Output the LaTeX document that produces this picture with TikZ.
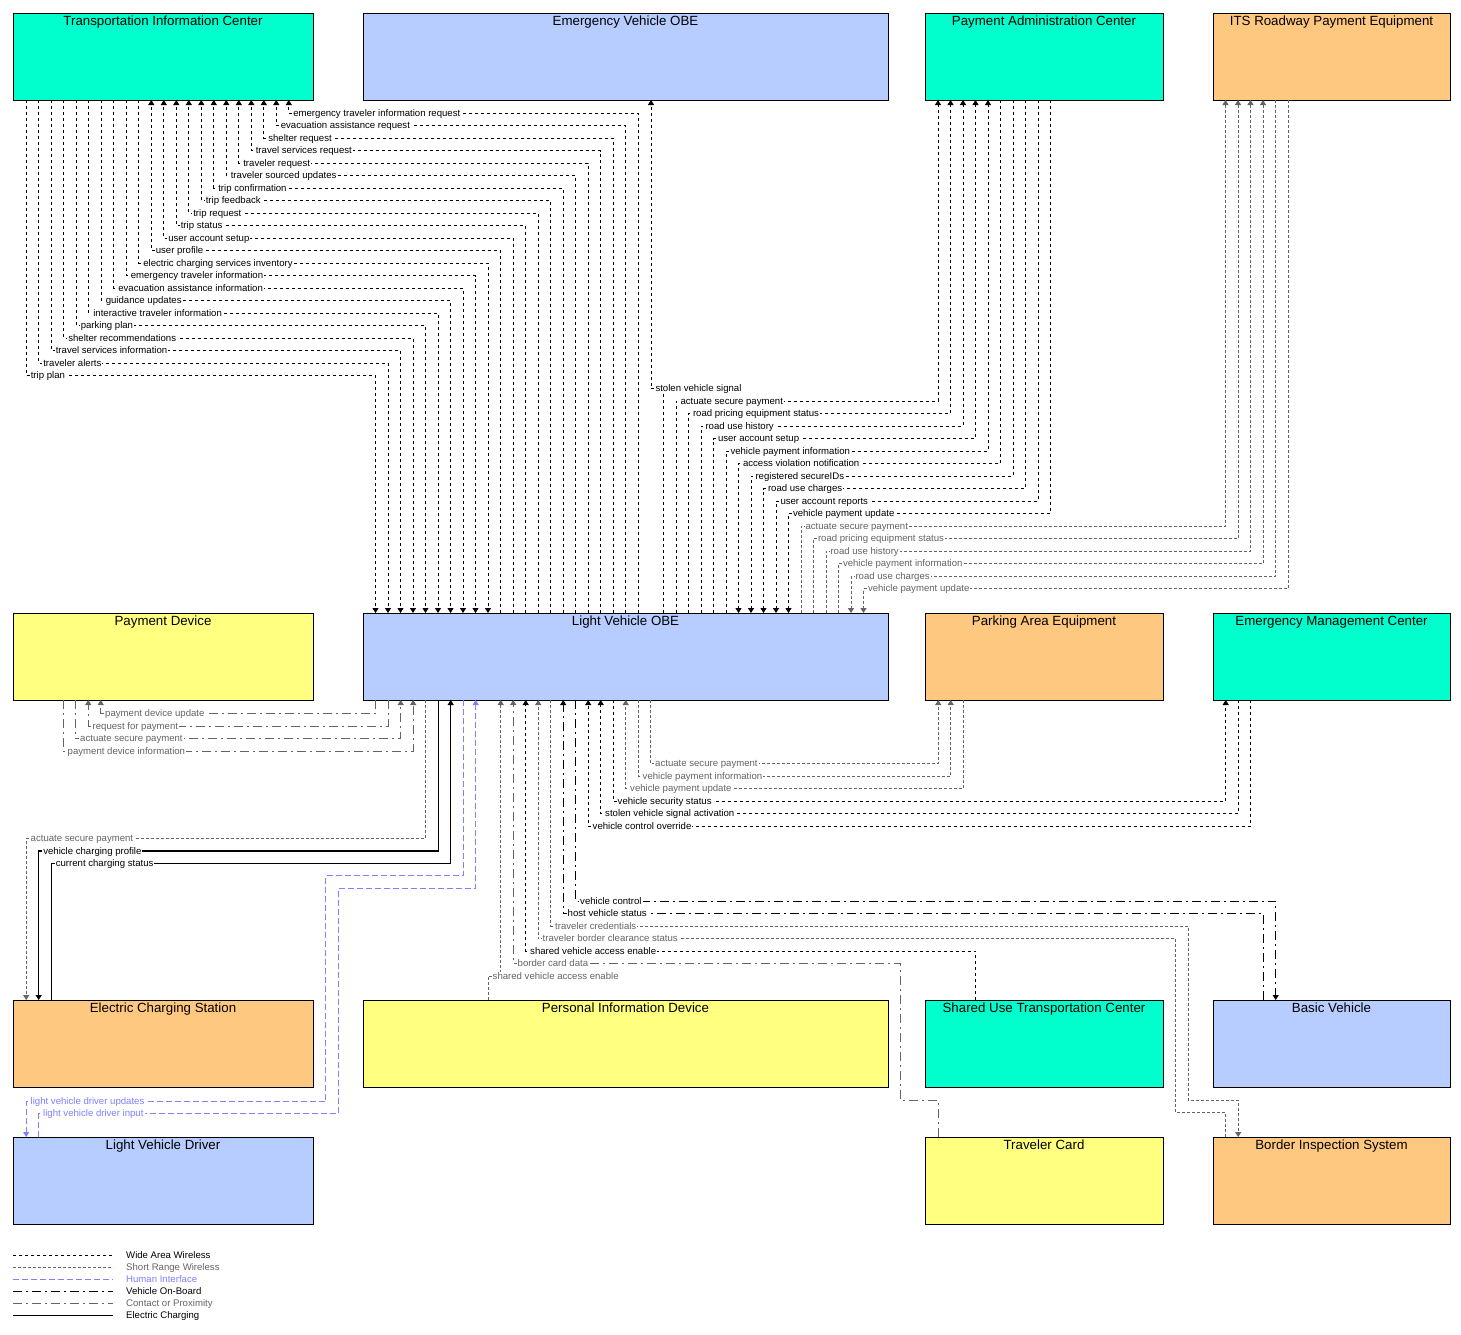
\documentclass[tikz,border=0pt]{standalone}
\usepackage{fontspec}
\setmainfont{Liberation Sans}
\usetikzlibrary{arrows.meta}
\definecolor{cteal}{RGB}{0,255,204}
\definecolor{cblue}{RGB}{183,204,255}
\definecolor{cyel}{RGB}{255,255,128}
\definecolor{corg}{RGB}{255,200,128}
\definecolor{cgray}{RGB}{100,100,100}
\definecolor{chi}{RGB}{128,128,255}
\newcounter{lbc}
\newcommand\fl[7]{%
  \draw[#1,arr] (#2 -| #3,0) -- (#3,#4) -- (#6,#4) -- (#5 -| #6,0);
  \stepcounter{lbc}%
  \node[#1,lbl] (lb\arabic{lbc}) at ({min(#3,#6)+3},#4) {#7};
}
\newcommand\lab[4]{% style, x, y, text
  \stepcounter{lbc}%
  \node[#1,lbl] (lb\arabic{lbc}) at (#2,#3) {#4};
}
\tikzset{
 box/.style={draw=black, line width=1pt, anchor=north west, inner sep=0pt, outer sep=0pt},
 ttl/.style={anchor=north, inner sep=0pt, font=\fontsize{13.3}{15}\selectfont, yshift=-3pt},
 lbl/.style={anchor=west, fill=white, inner xsep=1pt, inner ysep=0.5pt, font=\fontsize{9.6}{11}\selectfont, text height=6.8pt, text depth=2pt, yshift=-0.8pt},
 leg/.style={anchor=west, inner sep=0pt, font=\fontsize{9.6}{11}\selectfont, text height=6.8pt, text depth=2pt, yshift=-0.8pt},
 arr/.style={-{Triangle[width=6pt,length=5pt]}},
 waw/.style={color=black, line width=1pt, dash pattern=on 3pt off 3pt},
 srw/.style={color=cgray, line width=1pt, dash pattern=on 3pt off 2pt},
 hi/.style={color=chi, line width=1pt, dash pattern=on 6pt off 3pt},
 vob/.style={color=black, line width=1pt, dash pattern=on 9pt off 4pt on 2pt off 4pt},
 cop/.style={color=cgray, line width=1pt, dash pattern=on 9pt off 4pt on 2pt off 4pt},
 ec/.style={color=black, line width=1.2pt},
}
\begin{document}
\begin{tikzpicture}[x=1pt,y=-1pt]
\useasboundingbox (0,0) rectangle (1461,1334);
\fill[white] (0,0) rectangle (1461,1334);
% boxes
\node[box,fill=cteal,minimum width=300pt,minimum height=87pt] (tic) at (13,13) {};
\node[box,fill=cblue,minimum width=525pt,minimum height=87pt] (evobe) at (363,13) {};
\node[box,fill=cteal,minimum width=238pt,minimum height=87pt] (pac) at (925,13) {};
\node[box,fill=corg,minimum width=237pt,minimum height=87pt] (rpe) at (1213,13) {};
\node[box,fill=cyel,minimum width=300pt,minimum height=87pt] (pd) at (13,613) {};
\node[box,fill=cblue,minimum width=525pt,minimum height=87pt] (lvobe) at (363,613) {};
\node[box,fill=corg,minimum width=238pt,minimum height=87pt] (pae) at (925,613) {};
\node[box,fill=cteal,minimum width=237pt,minimum height=87pt] (emc) at (1213,613) {};
\node[box,fill=corg,minimum width=300pt,minimum height=87pt] (ecs) at (13,1000) {};
\node[box,fill=cyel,minimum width=525pt,minimum height=87pt] (pid) at (363,1000) {};
\node[box,fill=cteal,minimum width=238pt,minimum height=87pt] (sutc) at (925,1000) {};
\node[box,fill=cblue,minimum width=237pt,minimum height=87pt] (bv) at (1213,1000) {};
\node[box,fill=cblue,minimum width=300pt,minimum height=87pt] (lvd) at (13,1137) {};
\node[box,fill=cyel,minimum width=238pt,minimum height=87pt] (tc) at (925,1137) {};
\node[box,fill=corg,minimum width=237pt,minimum height=87pt] (bis) at (1213,1137) {};
% titles
\node[ttl] (tic-t) at (tic.north) {Transportation Information Center};
\node[ttl] (evobe-t) at (evobe.north) {Emergency Vehicle OBE};
\node[ttl] (pac-t) at (pac.north) {Payment Administration Center};
\node[ttl] (rpe-t) at (rpe.north) {ITS Roadway Payment Equipment};
\node[ttl] (pd-t) at (pd.north) {Payment Device};
\node[ttl] (lvobe-t) at (lvobe.north) {Light Vehicle OBE};
\node[ttl] (pae-t) at (pae.north) {Parking Area Equipment};
\node[ttl] (emc-t) at (emc.north) {Emergency Management Center};
\node[ttl] (ecs-t) at (ecs.north) {Electric Charging Station};
\node[ttl] (pid-t) at (pid.north) {Personal Information Device};
\node[ttl] (sutc-t) at (sutc.north) {Shared Use Transportation Center};
\node[ttl] (bv-t) at (bv.north) {Basic Vehicle};
\node[ttl] (lvd-t) at (lvd.north) {Light Vehicle Driver};
\node[ttl] (tc-t) at (tc.north) {Traveler Card};
\node[ttl] (bis-t) at (bis.north) {Border Inspection System};
% TIC <-> LV OBE
\fl{waw}{lvobe.north}{638}{113}{tic.south}{288.8}{emergency traveler information request}
\fl{waw}{lvobe.north}{625.5}{125.5}{tic.south}{276.3}{evacuation assistance request}
\fl{waw}{lvobe.north}{613}{138}{tic.south}{263.8}{shelter request}
\fl{waw}{lvobe.north}{600.5}{150.5}{tic.south}{251.3}{travel services request}
\fl{waw}{lvobe.north}{588}{163}{tic.south}{238.8}{traveler request}
\fl{waw}{lvobe.north}{575.5}{175.5}{tic.south}{226.3}{traveler sourced updates}
\fl{waw}{lvobe.north}{563}{188}{tic.south}{213.8}{trip confirmation}
\fl{waw}{lvobe.north}{550.5}{200.5}{tic.south}{201.3}{trip feedback}
\fl{waw}{lvobe.north}{538}{213}{tic.south}{188.8}{trip request}
\fl{waw}{lvobe.north}{525.5}{225.5}{tic.south}{176.3}{trip status}
\fl{waw}{lvobe.north}{513}{238}{tic.south}{163.8}{user account setup}
\fl{waw}{lvobe.north}{500.5}{250.5}{tic.south}{151.3}{user profile}
\fl{waw}{tic.south}{138.8}{263}{lvobe.north}{488}{electric charging services inventory}
\fl{waw}{tic.south}{126.3}{275.5}{lvobe.north}{475.5}{emergency traveler information}
\fl{waw}{tic.south}{113.8}{288}{lvobe.north}{463}{evacuation assistance information}
\fl{waw}{tic.south}{101.3}{300.5}{lvobe.north}{450.5}{guidance updates}
\fl{waw}{tic.south}{88.8}{313}{lvobe.north}{438}{interactive traveler information}
\fl{waw}{tic.south}{76.3}{325.5}{lvobe.north}{425.5}{parking plan}
\fl{waw}{tic.south}{63.8}{338}{lvobe.north}{413}{shelter recommendations}
\fl{waw}{tic.south}{51.3}{350.5}{lvobe.north}{400.5}{travel services information}
\fl{waw}{tic.south}{38.8}{363}{lvobe.north}{388}{traveler alerts}
\fl{waw}{tic.south}{26.3}{375.5}{lvobe.north}{375.5}{trip plan}
% EV OBE
\fl{waw}{lvobe.north}{663.5}{388.5}{evobe.south}{651}{stolen vehicle signal}
% PAC
\fl{waw}{lvobe.north}{676}{401}{pac.south}{938}{actuate secure payment}
\fl{waw}{lvobe.north}{688.5}{413.5}{pac.south}{950.5}{road pricing equipment status}
\fl{waw}{lvobe.north}{701}{426}{pac.south}{963}{road use history}
\fl{waw}{lvobe.north}{713.5}{438.5}{pac.south}{975.5}{user account setup}
\fl{waw}{lvobe.north}{726}{451}{pac.south}{988}{vehicle payment information}
\fl{waw}{pac.south}{1000.5}{463.5}{lvobe.north}{738.5}{access violation notification}
\fl{waw}{pac.south}{1013}{476}{lvobe.north}{751}{registered secureIDs}
\fl{waw}{pac.south}{1025.5}{488.5}{lvobe.north}{763.5}{road use charges}
\fl{waw}{pac.south}{1038}{501}{lvobe.north}{776}{user account reports}
\fl{waw}{pac.south}{1050.5}{513.5}{lvobe.north}{788.5}{vehicle payment update}
% ITS Roadway Payment Equipment
\fl{srw}{lvobe.north}{801}{526}{rpe.south}{1225.5}{actuate secure payment}
\fl{srw}{lvobe.north}{813.5}{538.5}{rpe.south}{1238}{road pricing equipment status}
\fl{srw}{lvobe.north}{826}{551}{rpe.south}{1250.5}{road use history}
\fl{srw}{lvobe.north}{838.5}{563.5}{rpe.south}{1263}{vehicle payment information}
\fl{srw}{rpe.south}{1275.5}{576}{lvobe.north}{851}{road use charges}
\fl{srw}{rpe.south}{1288}{588.5}{lvobe.north}{863.5}{vehicle payment update}
% Payment Device
\fl{cop}{lvobe.south}{375.7}{713.5}{pd.south}{100.7}{payment device update}
\fl{cop}{lvobe.south}{388.2}{726}{pd.south}{88.2}{request for payment}
\fl{cop}{pd.south}{75.7}{738.5}{lvobe.south}{400.7}{actuate secure payment}
\fl{cop}{pd.south}{63.2}{751}{lvobe.south}{413.2}{payment device information}
% Electric Charging Station
\fl{srw}{lvobe.south}{425.7}{838.5}{ecs.north}{26.2}{actuate secure payment}
\fl{ec}{lvobe.south}{438.2}{851}{ecs.north}{38.7}{vehicle charging profile}
\fl{ec}{ecs.north}{51.2}{863.5}{lvobe.south}{450.7}{current charging status}
% Parking Area Equipment
\fl{srw}{lvobe.south}{650.7}{763.5}{pae.south}{938.2}{actuate secure payment}
\fl{srw}{lvobe.south}{638.2}{776}{pae.south}{950.7}{vehicle payment information}
\fl{srw}{pae.south}{963.2}{788.5}{lvobe.south}{625.7}{vehicle payment update}
% Emergency Management Center
\fl{waw}{lvobe.south}{613.2}{801}{emc.south}{1225.7}{vehicle security status}
\fl{waw}{emc.south}{1238.2}{813.5}{lvobe.south}{600.7}{stolen vehicle signal activation}
\fl{waw}{emc.south}{1250.7}{826}{lvobe.south}{588.2}{vehicle control override}
% Basic Vehicle
\fl{vob}{lvobe.south}{575.7}{901}{bv.north}{1275.7}{vehicle control}
\fl{vob}{bv.north}{1263.2}{913.5}{lvobe.south}{563.2}{host vehicle status}
% Border Inspection System
\draw[srw,arr] (lvobe.south -| 550.7,0) -- (550.7,926) -- (1188.2,926) -- (1188.2,1100) -- (1238.2,1100) -- (bis.north -| 1238.2,0);
\lab{srw}{553.7}{926}{traveler credentials}
\draw[srw,arr] (bis.north -| 1225.7,0) -- (1225.7,1112.5) -- (1175.7,1112.5) -- (1175.7,938.5) -- (538.2,938.5) -- (lvobe.south -| 538.2,0);
\lab{srw}{541.2}{938.5}{traveler border clearance status}
% Shared Use Transportation Center
\fl{waw}{sutc.north}{975.7}{951}{lvobe.south}{525.7}{shared vehicle access enable}
% Traveler Card
\draw[cop,arr] (tc.north -| 938.2,0) -- (938.2,1100) -- (900.7,1100) -- (900.7,963.5) -- (513.2,963.5) -- (lvobe.south -| 513.2,0);
\lab{cop}{516.2}{963.5}{border card data}
% Personal Information Device
\draw[srw,arr] (pid.north -| 488.2,0) -- (488.2,976) -- (500.7,976) -- (lvobe.south -| 500.7,0);
\lab{srw}{491.2}{976}{shared vehicle access enable}
% Light Vehicle Driver
\draw[hi,arr] (lvobe.south -| 463.2,0) -- (463.2,875.5) -- (325.7,875.5) -- (325.7,1101.5) -- (26.2,1101.5) -- (lvd.north -| 26.2,0);
\lab{hi}{29.2}{1101.5}{light vehicle driver updates}
\draw[hi,arr] (lvd.north -| 38.7,0) -- (38.7,1113.5) -- (338.2,1113.5) -- (338.2,888) -- (475.7,888) -- (lvobe.south -| 475.7,0);
\lab{hi}{41.7}{1113.5}{light vehicle driver input}
% legend
\coordinate (g1a) at (13,1255.5); \coordinate (g1b) at (113,1255.5);
\coordinate (g2a) at (13,1267.5); \coordinate (g2b) at (113,1267.5);
\coordinate (g3a) at (13,1279.5); \coordinate (g3b) at (113,1279.5);
\coordinate (g4a) at (13,1291.5); \coordinate (g4b) at (113,1291.5);
\coordinate (g5a) at (13,1303.5); \coordinate (g5b) at (113,1303.5);
\coordinate (g6a) at (13,1315.5); \coordinate (g6b) at (113,1315.5);
\draw[waw] (g1a) -- (g1b);
\draw[srw] (g2a) -- (g2b);
\draw[hi] (g3a) -- (g3b);
\draw[vob] (g4a) -- (g4b);
\draw[cop] (g5a) -- (g5b);
\draw[ec] (g6a) -- (g6b);
\node[leg,text=black] (gt1) at (126,1255.5) {Wide Area Wireless};
\node[leg,text=cgray] (gt2) at (126,1267.5) {Short Range Wireless};
\node[leg,text=chi] (gt3) at (126,1279.5) {Human Interface};
\node[leg,text=black] (gt4) at (126,1291.5) {Vehicle On-Board};
\node[leg,text=cgray] (gt5) at (126,1303.5) {Contact or Proximity};
\node[leg,text=black] (gt6) at (126,1315.5) {Electric Charging};
\end{tikzpicture}
\end{document}
